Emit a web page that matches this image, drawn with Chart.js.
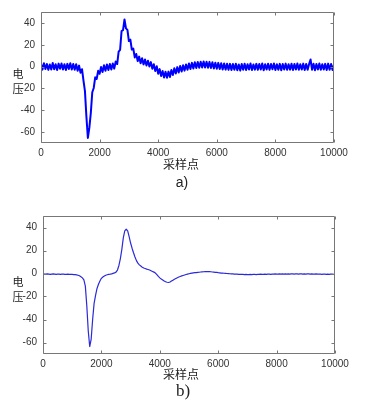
<!DOCTYPE html>
<html>
<head>
<meta charset="utf-8">
<script src="https://cdn.jsdelivr.net/npm/chart.js@4.4.1/dist/chart.umd.min.js"></script>
<style>
  html, body { margin:0; padding:0; background:#fff; }
  #wrap { position:relative; width:380px; height:405px; overflow:hidden; background:#fff; }
  canvas { position:absolute; left:0; }
  .lbl { position:absolute; transform:translate(-50%,-50%); line-height:1; white-space:nowrap; color:#222; }
  .cjk { font-family:"Noto Sans CJK SC", sans-serif; font-size:11px; }
</style>
</head>
<body>
<div id="wrap">
  <canvas id="c1" width="380" height="200" style="top:0"></canvas>
  <canvas id="c2" width="380" height="205" style="top:200px"></canvas>
  <div class="lbl cjk" style="left:18px;top:73px">电</div>
  <div class="lbl cjk" style="left:18px;top:88px">压</div>
  <div class="lbl cjk" style="left:181px;top:164px;font-size:12px">采样点</div>
  <div class="lbl" style="left:182px;top:182px;font-family:'Liberation Sans',Arial,sans-serif;font-size:14px">a)</div>
  <div class="lbl cjk" style="left:18px;top:281px">电</div>
  <div class="lbl cjk" style="left:18px;top:296px">压</div>
  <div class="lbl cjk" style="left:181px;top:374px;font-size:12px">采样点</div>
  <div class="lbl" style="left:183px;top:390px;font-family:'Liberation Serif','Times New Roman',serif;font-size:17px">b)</div>
</div>
<script>
// x tick labels and y tick labels
const xTicks = [0, 2000, 4000, 6000, 8000, 10000];
const yTicks = [-60, -40, -20, 0, 20, 40];

// a) raw (noisy) voltage, sampled every 50 points
const rawVoltage = [
  2.6,-2.8,3.1,-2.2,2.4,-3.0,1.9,-2.6,3.3,-2.4,2.2,-3.1,2.7,-2.0,2.9,-2.7,2.1,-3.2,2.5,-2.3,
  3.0,-2.6,2.3,-2.9,2.2,-3.8,0.9,-5.6,-2.4,-12.8,-22.5,-46,-65.4,-56,-42.5,-23.5,-19.6,-9.8,-11.4,-3.9,
  -6.6,-0.4,-4.9,1.2,-3.9,2.0,-3.1,2.4,-2.6,2.9,-1.9,4.6,2.3,13.8,15.4,32.6,33.4,43.2,35.0,33.6,
  23.4,24.7,15.6,16.5,8.4,11.6,5.0,9.1,3.1,7.6,2.0,6.5,1.0,5.4,0.1,4.1,-1.9,2.2,-4.0,0.3,
  -6.6,-2.3,-8.7,-4.1,-10.0,-4.8,-10.3,-4.6,-9.6,-3.2,-7.7,-1.6,-6.3,-0.5,-5.4,0.6,-4.5,1.3,-3.7,2.0,
  -2.9,2.8,-2.2,3.4,-1.7,3.9,-1.3,4.2,-1.1,4.4,-0.9,4.7,-0.8,4.5,-1.1,4.3,-1.3,4.0,-1.7,3.6,
  -1.9,3.4,-2.3,3.1,-2.6,2.9,-2.8,2.6,-3.0,2.5,-3.1,2.3,-2.9,2.6,-3.3,2.0,-3.7,2.3,-2.9,2.6,
  -3.1,2.1,-2.7,2.8,-3.2,2.0,-2.8,2.5,-3.0,2.3,-2.6,2.9,-3.3,2.2,-2.7,2.6,-3.0,2.4,-2.5,2.8,
  -3.1,2.1,-2.9,2.5,-3.4,2.3,-2.6,2.7,-3.0,2.2,-2.8,2.6,-3.2,2.4,-2.7,2.9,-3.0,2.1,-2.6,2.7,
  -3.1,2.3,-2.9,2.4,6.5,-2.8,2.6,-3.3,2.4,-2.7,2.8,-3.0,2.2,-2.6,2.5,-3.2,2.7,-2.9,2.3,-3.1,
  2.0
];

// b) filtered voltage, sampled every 50 points
const filteredVoltage = [
  -0.3,-0.5,-0.6,-0.4,-0.5,-0.7,-0.5,-0.4,-0.6,-0.8,-0.6,-0.5,-0.7,-0.6,-0.5,-0.7,-0.8,-0.6,-0.7,-0.8,
  -0.8,-0.9,-1.0,-1.2,-1.5,-2.0,-2.8,-3.8,-5.5,-11,-28,-50,-63.5,-57,-40,-26,-19,-13,-9.4,-6.5,
  -4.2,-3.0,-2.2,-1.5,-1.1,-0.8,-0.6,-0.3,0.1,0.5,1.2,3.0,7.0,13,21,31,37,38.5,37,32,
  26.5,22,18,14.3,11.2,9,7.5,6.5,5.5,4.8,4.3,3.8,3.5,3,2.4,1.8,1.2,0.4,-1.0,-2.5,
  -3.8,-4.8,-5.6,-6.5,-7.2,-7.6,-7.8,-7.4,-6.6,-5.8,-5.0,-4.3,-3.7,-3.1,-2.6,-2.1,-1.7,-1.3,-0.9,-0.5,
  -0.2,0.1,0.3,0.5,0.7,0.8,1.0,1.1,1.3,1.4,1.5,1.6,1.7,1.7,1.6,1.5,1.3,1.2,1.0,0.9,
  0.7,0.6,0.4,0.3,0.2,0.1,0,-0.1,-0.2,-0.3,-0.4,-0.5,-0.6,-0.6,-0.7,-0.7,-0.8,-0.8,-0.9,-0.8,
  -0.9,-1.0,-0.8,-0.9,-0.7,-0.8,-0.9,-0.7,-0.8,-0.6,-0.7,-0.8,-0.6,-0.7,-0.5,-0.6,-0.7,-0.5,-0.6,-0.4,
  -0.5,-0.6,-0.4,-0.5,-0.3,-0.5,-0.4,-0.6,-0.4,-0.5,-0.3,-0.4,-0.5,-0.3,-0.4,-0.5,-0.3,-0.4,-0.6,-0.4,
  -0.5,-0.3,-0.4,-0.5,-0.4,-0.6,-0.5,-0.4,-0.5,-0.6,-0.5,-0.7,-0.6,-0.5,-0.7,-0.6,-0.8,-0.6,-0.5,-0.7,
  -0.6
];

// sample indices (categories)
const samples = rawVoltage.map((_, i) => i * 50);

const tickFont = { family: "'Liberation Sans Narrow','Liberation Sans',Arial,sans-serif", size: 10 };
const tickColor = '#333';

const framePlugin = {
  id: 'frame',
  afterDraw(chart) {
    const { ctx, chartArea: a, scales } = chart;
    const L = Math.round(a.left) + 0.5, R = Math.round(a.right) - 0.5;
    const T = Math.round(a.top) + 0.5, B = Math.round(a.bottom) - 0.5;
    ctx.save();
    ctx.strokeStyle = '#777';
    ctx.lineWidth = 1;
    ctx.beginPath();
    ctx.rect(L, T, R - L, B - T);
    const tl = 3;
    xTicks.forEach(v => {
      const px = Math.round(scales.x.getPixelForValue(v)) + 0.5;
      ctx.moveTo(px, B); ctx.lineTo(px, B - tl);
      ctx.moveTo(px, T); ctx.lineTo(px, T + tl);
    });
    yTicks.forEach(v => {
      const py = Math.round(scales.y.getPixelForValue(v)) + 0.5;
      ctx.moveTo(L, py); ctx.lineTo(L + tl, py);
      ctx.moveTo(R, py); ctx.lineTo(R - tl, py);
    });
    ctx.stroke();
    ctx.restore();
  }
};

function makeChart(id, values, color, width, pad, yW, xH) {
  return new Chart(document.getElementById(id), {
    type: 'line',
    data: {
      datasets: [{
        data: samples.map((s, i) => ({ x: s, y: values[i] })),
        borderColor: color,
        borderWidth: width,
        borderJoinStyle: 'round',
        borderCapStyle: 'round',
        pointRadius: 0,
        tension: 0,
        fill: false
      }]
    },
    options: {
      responsive: false,
      animation: false,
      events: [],
      layout: { padding: pad },
      plugins: { legend: { display: false }, tooltip: { enabled: false } },
      scales: {
        x: {
          type: 'linear', min: 0, max: 10000,
          afterBuildTicks: s => { s.ticks = xTicks.map(v => ({ value: v })); },
          afterFit: s => { s.height = xH; },
          grid: { display: false, drawTicks: false },
          border: { display: false },
          ticks: { font: tickFont, color: tickColor, padding: 4, maxRotation: 0, autoSkip: false,
                   callback: v => String(v) }
        },
        y: {
          type: 'linear', min: -70, max: 50,
          afterBuildTicks: s => { s.ticks = yTicks.map(v => ({ value: v })); },
          afterFit: s => { s.width = yW; },
          grid: { display: false, drawTicks: false },
          border: { display: false },
          ticks: { font: tickFont, color: tickColor, padding: 6, autoSkip: false,
                   callback: v => String(v) }
        }
      }
    },
    plugins: [framePlugin]
  });
}

makeChart('c1', rawVoltage, '#0000ff', 2, { top: 8, right: 46, left: 0, bottom: 0 }, 41, 57);
makeChart('c2', filteredVoltage, '#2a2ad8', 1.2, { top: 16, right: 45, left: 0, bottom: 0 }, 43, 51);
</script>
</body>
</html>
